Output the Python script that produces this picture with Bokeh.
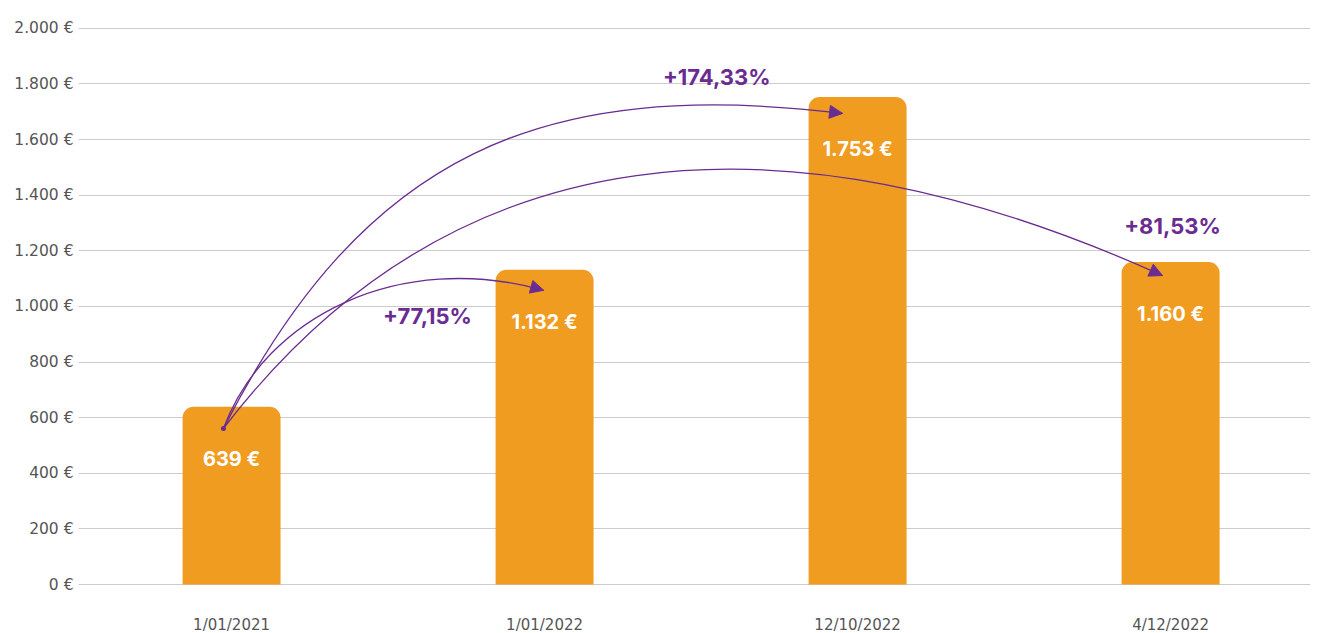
from bokeh.plotting import figure
from bokeh.models import Range1d, FixedTicker, Arrow, NormalHead, ColumnDataSource
from bokeh.core.properties import value
from bokeh.embed import file_html
from bokeh.resources import INLINE

# ---------------- data ----------------
dates = ["1/01/2021", "1/01/2022", "12/10/2022", "4/12/2022"]
values = [639, 1132, 1753, 1160]
y_ticks = [0, 200, 400, 600, 800, 1000, 1200, 1400, 1600, 1800, 2000]

# ---------------- style ----------------
ORANGE = "#F09C21"
PURPLE = "#6A2C91"
AXIS_TXT = "#555555"
GRID = "#cccccc"
FONT = "DejaVu Sans"
BOLD_FONT = "Inter"


def eur(v):
    return f"{v:,}".replace(",", ".") + " €"


def pct(a, b):
    return "+" + f"{(b / a - 1) * 100:.2f}".replace(".", ",") + "%"


xs = list(range(len(values)))

p = figure(width=1320, height=633,
           x_range=Range1d(-0.489, 3.447), y_range=Range1d(-176, 2010),
           output_backend="svg", toolbar_location=None,
           min_border_left=78, min_border_right=10,
           min_border_top=25, min_border_bottom=0)
p.outline_line_color = None
p.background_fill_color = "white"
p.border_fill_color = "white"

# grid
p.xgrid.grid_line_color = None
p.ygrid.ticker = FixedTicker(ticks=y_ticks)
p.ygrid.grid_line_color = GRID
p.ygrid.grid_line_width = 1

# y axis
p.yaxis.ticker = FixedTicker(ticks=y_ticks)
p.yaxis.major_label_overrides = {t: eur(t) for t in y_ticks}
p.yaxis.axis_line_color = None
p.yaxis.major_tick_line_color = None
p.yaxis.minor_tick_line_color = None
p.yaxis.major_tick_out = 0
p.yaxis.major_tick_in = 0
p.yaxis.major_label_standoff = 5
p.yaxis.major_label_text_font = FONT
p.yaxis.major_label_text_font_size = "15.5px"
p.yaxis.major_label_text_color = AXIS_TXT

# x axis labels drawn as text below the zero line
p.xaxis.visible = False
p.text(x=xs, y=[0] * len(xs), text=dates, y_offset=40,
       text_align="center", text_baseline="middle",
       text_font=value(FONT), text_font_size="15px", text_color=AXIS_TXT)

# bars
src = ColumnDataSource(dict(x=xs, top=values, lab=[eur(v) for v in values]))
p.vbar(x="x", top="top", bottom=0, width=0.313, source=src,
       fill_color=ORANGE, line_color=None, border_radius=(11, 11, 0, 0))

p.text(x="x", y="top", text="lab", source=src, y_offset=52,
       text_align="center", text_baseline="middle",
       text_color="white", text_font=value(BOLD_FONT),
       text_font_style="bold", text_font_size="20px")

# arrows from first bar to each later bar
start_x = xs[0] - 0.026
start_y = values[0] - 78
# (target index, end dx, end dy, ctrl1 (dx,dy) from start, ctrl2 (dx,dy) from end, label x, label y)
arrow_style = [
    (1, -0.003, -74, (0.135, 407), (-0.457, 143), 0.626, 964),
    (2, -0.048, -59, (0.451, 993), (-0.958, 130), 1.550, 1824),
    (3, -0.026, -49, (0.732, 1076), (-1.214, 616), 3.006, 1288),
]
for (j, edx, edy, c1, c2, lx, ly) in arrow_style:
    ex = xs[j] + edx
    ey = values[j] + edy
    cx1 = start_x + c1[0]
    cy1 = start_y + c1[1]
    cx2 = ex + c2[0]
    cy2 = ey + c2[1]
    p.bezier(x0=[start_x], y0=[start_y], x1=[ex], y1=[ey],
             cx0=[cx1], cy0=[cy1], cx1=[cx2], cy1=[cy2],
             line_color=PURPLE, line_width=1.3)
    p.add_layout(Arrow(end=NormalHead(size=13, fill_color=PURPLE, line_color=PURPLE),
                       x_start=cx2, y_start=cy2, x_end=ex, y_end=ey, line_alpha=0))
    p.text(x=[lx], y=[ly], text=[pct(values[0], values[j])],
           text_align="center", text_baseline="middle",
           text_color=PURPLE, text_font=value(BOLD_FONT),
           text_font_style="bold", text_font_size="22px")

p.scatter(x=[start_x], y=[start_y], size=5, fill_color=PURPLE, line_color=None)

open("out.html", "w").write(file_html(p, INLINE))
